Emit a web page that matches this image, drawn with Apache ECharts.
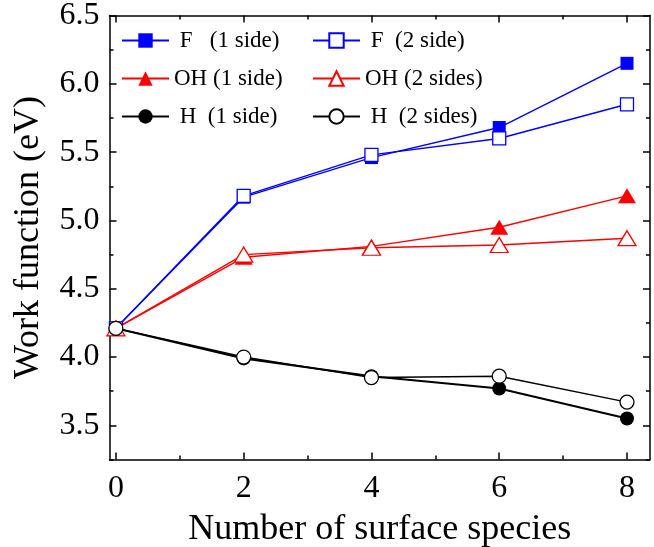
<!DOCTYPE html>
<html>
<head>
<meta charset="utf-8">
<script src="https://cdn.jsdelivr.net/npm/echarts@6/dist/echarts.min.js"></script>
<style>html,body{margin:0;padding:0;background:#fff}#c{width:654px;height:547px}</style>
</head>
<body>
<div id="c"></div>
<script>
const xValues = [0, 2, 4, 6, 8];
const F1 = [4.21, 5.17, 5.46, 5.68, 6.15];
const F2 = [4.21, 5.18, 5.48, 5.60, 5.85];
const OH1 = [4.21, 4.73, 4.81, 4.95, 5.18];
const OH2 = [4.21, 4.75, 4.80, 4.82, 4.87];
const H1 = [4.21, 3.99, 3.86, 3.77, 3.55];
const H2 = [4.21, 4.00, 3.85, 3.86, 3.67];
const names = [' F   (1 side)', ' F  (2 side)', 'OH (1 side)', 'OH (2 sides)', ' H  (1 side)', ' H  (2 sides)'];
const xMajor = [0, 2, 4, 6, 8];
const xMinor = [1, 3, 5, 7];
const yMajor = [3.5, 4.0, 4.5, 5.0, 5.5, 6.0, 6.5];
const yMinor = [3.25, 3.75, 4.25, 4.75, 5.25, 5.75, 6.25];

const FONT = 'Liberation Serif';
const X_MIN = -0.1, X_MAX = 8.36, Y_MIN = 3.25, Y_MAX = 6.5;

function pts(arr) { return xValues.map((x, i) => [x, arr[i]]); }

function xAx(pos, ticks, len, line, labels) {
  return {
    type: 'value', position: pos, min: X_MIN, max: X_MAX,
    axisLine: { show: line, onZero: false, lineStyle: { color: '#000', width: 1.5 } },
    axisTick: { show: true, inside: true, length: len, customValues: ticks, lineStyle: { color: '#000', width: 1.5 } },
    axisLabel: labels ? { show: true, customValues: ticks, fontFamily: FONT, fontSize: 32, color: '#000', margin: 13 } : { show: false },
    splitLine: { show: false }
  };
}
function yAx(pos, ticks, len, line, labels) {
  return {
    type: 'value', position: pos, min: Y_MIN, max: Y_MAX,
    axisLine: { show: line, onZero: false, lineStyle: { color: '#000', width: 1.5 } },
    axisTick: { show: true, inside: true, length: len, customValues: ticks, lineStyle: { color: '#000', width: 1.5 } },
    axisLabel: labels ? { show: true, customValues: ticks, fontFamily: FONT, fontSize: 32, color: '#000', margin: 10, formatter: v => v.toFixed(1) } : { show: false },
    splitLine: { show: false }
  };
}

const xAxes = [xAx('bottom', xMajor, 7, true, true), xAx('bottom', xMinor, 4, false, false), xAx('top', xMajor, 7, true, false), xAx('top', xMinor, 4, false, false)];
xAxes[0].name = 'Number of surface species';
xAxes[0].nameLocation = 'middle';
xAxes[0].nameGap = 52;
xAxes[0].nameTextStyle = { fontFamily: FONT, fontSize: 36, color: '#000' };
const yAxes = [yAx('left', yMajor, 7, true, true), yAx('left', yMinor, 4, false, false), yAx('right', yMajor, 7, true, false), yAx('right', yMinor, 4, false, false)];
yAxes[0].name = 'Work function (eV)';
yAxes[0].nameLocation = 'middle';
yAxes[0].nameGap = 63;
yAxes[0].nameTextStyle = { fontFamily: FONT, fontSize: 36, color: '#000' };

function ser(name, data, color, symbol, size, lw, filled) {
  return {
    name: name, type: 'line', data: pts(data), xAxisIndex: 0, yAxisIndex: 0,
    symbol: symbol, symbolSize: size, showSymbol: true,
    lineStyle: { color: color, width: lw },
    itemStyle: filled ? { color: color, borderWidth: 0 } : { color: '#fff', borderColor: color, borderWidth: 1.3 },
    emphasis: { disabled: true }, animation: false, z: 2
  };
}
const series = [
  ser(names[0], F1, '#0000ff', 'rect', 13, 1.4, true),
  ser(names[1], F2, '#0000ff', 'rect', 13, 1.4, false),
  ser(names[2], OH1, '#ff0000', 'triangle', [18, 15], 1.4, true),
  ser(names[3], OH2, '#ff0000', 'triangle', [18, 15], 1.4, false),
  ser(names[4], H1, '#000000', 'circle', 14, 2, true),
  ser(names[5], H2, '#000000', 'circle', 14, 1.5, false)
];

const rowCenters = [42, 80, 118];
const colLeft = [121, 312];
const legends = names.map((n, i) => ({
  data: [n], left: colLeft[i % 2], top: rowCenters[Math.floor(i / 2)] - 13, padding: 0,
  itemWidth: 47, itemHeight: 18, selectedMode: false,
  textStyle: { fontFamily: FONT, fontSize: 23, color: '#000' }
}));

const chart = echarts.init(document.getElementById('c'), null, { renderer: 'canvas' });
chart.setOption({
  animation: false,
  backgroundColor: '#fff',
  grid: { left: 109.5, right: 4, top: 15.5, bottom: 87.5, containLabel: false, outerBoundsMode: 'none' },
  legend: legends,
  xAxis: xAxes,
  yAxis: yAxes,
  series: series
});
</script>
</body>
</html>
